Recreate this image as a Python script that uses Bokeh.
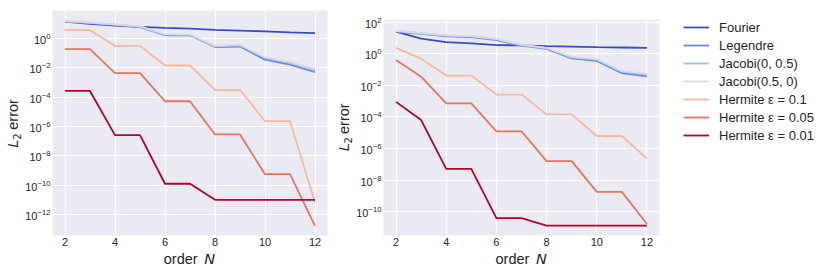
import numpy as np
from bokeh.plotting import figure
from bokeh.models import Range1d, FixedTicker, LogTickFormatter, Legend, LegendItem
from bokeh.core.properties import value
from bokeh.layouts import row, column
from bokeh.embed import file_html
from bokeh.resources import INLINE

orders = [2, 3, 4, 5, 6, 7, 8, 9, 10, 11, 12]
series_names = ["Fourier", "Legendre", "Jacobi(0, 0.5)", "Jacobi(0.5, 0)",
                "Hermite \u03b5 = 0.1", "Hermite \u03b5 = 0.05", "Hermite \u03b5 = 0.01"]
x_ticks = [2, 4, 6, 8, 10, 12]
left_y_ticks = [1e-12, 1e-10, 1e-8, 1e-6, 1e-4, 1e-2, 1e0]
right_y_ticks = [1e-10, 1e-8, 1e-6, 1e-4, 1e-2, 1e0, 1e2]

# left panel
left_fourier = [13.5, 9.5, 7.2, 5.9, 5.0, 4.4, 3.7, 3.3, 2.9, 2.5, 2.2]
left_legendre = [13.5, 10.5, 7.9, 5.6, 1.58, 1.62, 0.25, 0.27, 0.035, 0.016, 0.0049]
left_jacobi_a = [14.0, 11.0, 8.3, 6.0, 1.75, 1.70, 0.28, 0.32, 0.045, 0.021, 0.0068]
left_jacobi_b = [15.0, 11.5, 8.7, 6.3, 1.90, 1.80, 0.30, 0.36, 0.052, 0.024, 0.0083]
left_herm_01 = [3.5, 3.5, 0.30, 0.30, 0.014, 0.014, 3.1e-4, 3.1e-4, 2.3e-6, 2.3e-6, 7e-12]
left_herm_005 = [0.178, 0.178, 4.2e-3, 4.2e-3, 5.2e-5, 5.2e-5, 2.9e-7, 2.9e-7, 5.8e-10, 5.8e-10, 1.8e-13]
left_herm_001 = [2.6e-4, 2.6e-4, 2.6e-7, 2.6e-7, 1.3e-10, 1.3e-10, 1.05e-11, 1.05e-11, 1.05e-11, 1.05e-11, 1.05e-11]

# right panel
right_fourier = [24.5, 8.9, 5.4, 4.5, 3.5, 3.3, 3.0, 2.8, 2.6, 2.45, 2.3]
right_legendre = [25.0, 17.8, 12.6, 11.0, 7.1, 3.2, 2.0, 0.50, 0.35, 0.059, 0.037]
right_jacobi_a = [27.0, 19.5, 14.0, 12.3, 8.0, 3.5, 2.2, 0.58, 0.42, 0.072, 0.048]
right_jacobi_b = [28.0, 20.0, 14.5, 13.0, 8.5, 3.7, 2.3, 0.62, 0.45, 0.078, 0.054]
right_herm_01 = [2.3, 0.48, 0.041, 0.041, 2.6e-3, 2.6e-3, 1.45e-4, 1.45e-4, 6.2e-6, 6.2e-6, 2.3e-7]
right_herm_005 = [0.40, 0.035, 7.1e-4, 7.1e-4, 1.23e-5, 1.23e-5, 1.6e-7, 1.6e-7, 1.8e-9, 1.8e-9, 1.7e-11]
right_herm_001 = [8.9e-4, 6.3e-5, 5.1e-8, 5.1e-8, 4.0e-11, 4.0e-11, 1.35e-11, 1.35e-11, 1.35e-11, 1.35e-11, 1.35e-11]

colors = ["#3b4cc0", "#6788ee", "#9abbff", "#dddcdc", "#f7b89c", "#e7745b", "#b40426"]

TEXT = "#262626"
PLOT_H = 251
XLAB_H = 22

left_series = [left_fourier, left_legendre, left_jacobi_a, left_jacobi_b,
               left_herm_01, left_herm_005, left_herm_001]
right_series = [right_fourier, right_legendre, right_jacobi_a, right_jacobi_b,
                right_herm_01, right_herm_005, right_herm_001]


def make_fig(width, left_b, y_lo, y_hi, yticks, series):
    p = figure(width=width, height=PLOT_H, x_range=Range1d(1.5, 12.5),
               y_range=Range1d(y_lo, y_hi), y_axis_type="log",
               output_backend="svg", toolbar_location=None,
               min_border_left=left_b, min_border_right=3,
               min_border_top=10, min_border_bottom=PLOT_H - 10 - 225)
    p.background_fill_color = "#eaeaf2"
    p.border_fill_color = "white"
    p.outline_line_color = None
    p.xaxis.ticker = FixedTicker(ticks=x_ticks)
    p.yaxis.ticker = FixedTicker(ticks=yticks)
    p.yaxis.formatter = LogTickFormatter()
    for ax in p.axis:
        ax.axis_line_color = None
        ax.major_tick_line_color = None
        ax.minor_tick_line_color = None
        ax.major_tick_out = 0
        ax.major_tick_in = 0
        ax.minor_tick_out = 0
        ax.minor_tick_in = 0
        ax.major_label_text_font = "Liberation Sans"
        ax.major_label_text_font_size = "11px"
        ax.major_label_text_color = TEXT
        ax.major_label_standoff = 2
    p.xgrid.ticker = FixedTicker(ticks=x_ticks)
    p.ygrid.ticker = FixedTicker(ticks=yticks)
    for g in p.grid:
        g.grid_line_color = "white"
        g.grid_line_width = 1
        g.minor_grid_line_color = None
    for ys, c in zip(series, colors):
        p.line(orders, ys, line_color=c, line_width=1.8)
    return p


def text_fig(width, height, items):
    f = figure(width=width, height=height, x_range=Range1d(0, width),
               y_range=Range1d(height, 0), output_backend="svg", toolbar_location=None,
               min_border=0, x_axis_location=None, y_axis_location=None)
    f.grid.visible = False
    f.outline_line_color = None
    f.background_fill_color = "white"
    f.border_fill_color = "white"
    for (x, y, t, font, style, size, ang) in items:
        f.text(x=[x], y=[y], text=[t], angle=ang, text_font=value(font),
               text_font_style=style, text_font_size=size, text_align="left",
               text_baseline="middle", text_color=TEXT)
    return f


def ylabel_fig(width, xb):
    # xb: baseline position of the rotated label
    return text_fig(width, PLOT_H, [
        (xb - 5.1, 153, "L", "DejaVu Sans", "italic", "14.5px", np.pi / 2),
        (xb + 2.3 - 3.4, 144.2, "2", "DejaVu Sans", "normal", "10px", np.pi / 2),
        (xb - 5.1, 133, "error", "Liberation Sans", "normal", "14.5px", np.pi / 2),
    ])


def xlabel_fig(width, x0):
    return text_fig(width, XLAB_H, [
        (x0, 7.2, "order", "Liberation Sans", "normal", "14.5px", 0),
        (x0 + 40.5, 7.2, "N", "DejaVu Sans", "italic", "14.5px", 0),
    ])


def legend_fig(width, height, names, series):
    # legend sample lines; the series themselves fall outside this box's ranges
    f = figure(width=width, height=height, x_range=Range1d(0, 1), y_range=Range1d(0, 1),
               output_backend="svg", toolbar_location=None,
               min_border_left=21, min_border_top=19, min_border_right=0, min_border_bottom=0,
               x_axis_location=None, y_axis_location=None)
    f.grid.visible = False
    f.outline_line_color = None
    f.background_fill_color = "white"
    f.border_fill_color = "white"
    items = []
    for n, c, ys in zip(names, colors, series):
        r = f.line(orders, ys, line_color=c, line_width=1.8)
        items.append(LegendItem(label=n, renderers=[r]))
    legend = Legend(items=items, location="top_left", margin=0, padding=0, spacing=2,
                    label_height=16, glyph_height=16, glyph_width=26, label_standoff=10,
                    background_fill_alpha=0, border_line_alpha=0,
                    label_text_font="Liberation Sans", label_text_font_size="13px",
                    label_text_color=TEXT)
    f.add_layout(legend)
    return f


p1 = make_fig(308, 30, 3.98e-14, 75.9, left_y_ticks, left_series)
p2 = make_fig(309, 30, 3.16e-12, 144.5, right_y_ticks, right_series)

yl1 = ylabel_fig(22, 17.3)
yl2 = ylabel_fig(23, 18.5)
xl1 = xlabel_fig(330, 163.3)
xl2 = xlabel_fig(500, 165)
lf = legend_fig(168, PLOT_H, series_names, right_series)

layout = row(
    column(row(yl1, p1), xl1),
    column(row(yl2, p2, lf), xl2),
)
open("out.html", "w").write(file_html(layout, INLINE))
